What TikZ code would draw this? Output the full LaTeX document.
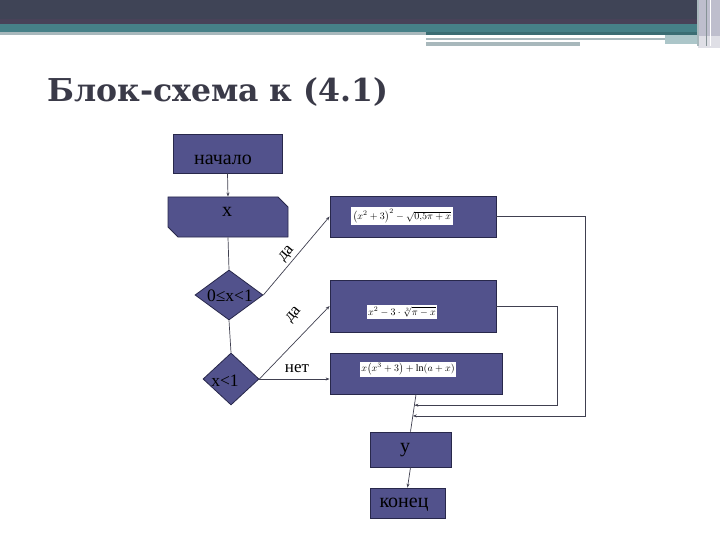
\documentclass[tikz,border=0pt]{standalone}
\usepackage{fontspec}
\setmainfont{Liberation Serif}
\newfontfamily\boxfont{Liberation Serif}
\newfontfamily\titlefont{DejaVu Serif}
\usetikzlibrary{shapes.geometric,shapes.misc,arrows.meta,calc}
\definecolor{hdrdark}{RGB}{63,68,86}
\definecolor{hdrpurp}{RGB}{72,66,88}
\definecolor{hdrteal}{RGB}{70,128,135}
\definecolor{hdrgray}{RGB}{168,184,188}
\definecolor{hdrlav}{RGB}{190,190,205}
\definecolor{boxfill}{RGB}{82,82,140}
\definecolor{boxline}{RGB}{40,40,75}
\definecolor{wire}{RGB}{64,64,80}
\definecolor{titlecol}{RGB}{58,58,72}
\tikzset{
  blk/.style={draw=boxline, fill=boxfill, line width=0.8pt, inner sep=0pt},
  dia/.style={blk, diamond, inner sep=0pt},
  txt/.style={inner sep=0pt, text=black, font=\boxfont\fontsize{20}{21}\selectfont},
  dtxt/.style={inner sep=0pt, text=black, font=\boxfont\fontsize{17.5}{18}\selectfont},
  frm/.style={fill=white, inner sep=1.5pt, font=\fontsize{10}{11}\selectfont, text=black},
  wirestyle/.style={draw=wire, line width=0.7pt, -{Stealth[length=4pt,width=3pt]}},
  plainwire/.style={draw=wire, line width=0.7pt},
  lbl/.style={font=\boxfont\fontsize{17}{18}\selectfont, text=black, inner sep=0pt}
}
\begin{document}
\begin{tikzpicture}[x=1pt,y=-1pt]
\useasboundingbox (0,0) rectangle (720,540);
% header
\fill[hdrdark] (0,0) rectangle (720,20);
\fill[hdrpurp] (0,19) rectangle (698,24);
\fill[hdrteal] (0,24) rectangle (698,32);
\fill[hdrgray] (0,32) rectangle (426,35);
\fill[hdrteal!85!black] (426,32) rectangle (698,35.5);
\fill[hdrgray] (426,38) rectangle (670,40.5);
\fill[hdrgray] (426,42.5) rectangle (580,46);
\fill[hdrteal!45!white] (665,35.5) rectangle (698,44);
\fill[hdrlav] (698,0) rectangle (720,36);
\fill[hdrlav!50!white] (698,36) rectangle (720,48);
\draw[hdrgray, line width=1.2pt] (698,0) -- (698,46);
\draw[hdrgray!80!black, line width=1pt] (706,0) -- (706,46);
\draw[white, line width=1pt] (710,0) -- (710,46);
% title
\node[anchor=base west, inner sep=0pt, text=titlecol, font=\titlefont\bfseries\fontsize{31.5}{33}\selectfont] (title) at (47,102) {Блок-схема к (4.1)};
% blocks
\node[blk, rectangle, minimum width=109pt, minimum height=39pt] (start) at (227.5,153.5) {};
\node[blk, chamfered rectangle, chamfered rectangle corners={north east,south west}, chamfered rectangle xsep=5pt, chamfered rectangle ysep=5pt, minimum width=120pt, minimum height=40pt] (xin) at (228,217) {\rule{100pt}{0pt}\rule{0pt}{30pt}};
\node[dia, minimum width=68pt, minimum height=50pt] (d1) at (229,295) {};
\node[dia, minimum width=56pt, minimum height=52pt] (d2) at (231,379) {};
\node[blk, rectangle, minimum width=166pt, minimum height=41pt] (b1) at (413,216.5) {};
\node[blk, rectangle, minimum width=166pt, minimum height=52pt] (b2) at (413,306) {};
\node[blk, rectangle, minimum width=172pt, minimum height=41pt] (b3) at (416,373.5) {};
\node[blk, rectangle, minimum width=81pt, minimum height=35pt] (ybox) at (410.5,449.5) {};
\node[blk, rectangle, minimum width=75pt, minimum height=30pt] (endb) at (407.5,503) {};
% texts
\node[txt] (startt) at (223,160) {начало};
\node[txt] (xint) at (227,212) {x};
\node[dtxt] (d1t) at (230,296) {0≤x<1};
\node[dtxt] (d2t) at (225,381) {x<1};
\node[txt] (ytxt) at (405,450) {y};
\node[txt] (endt) at (404,505) {конец};
\node[frm] (f1) at (402,216) {$\bigl(x^2+3\bigr)^2-\sqrt{0{,}5\pi+x}$};
\node[frm] (f2) at (402,312) {$x^2-3\cdot\sqrt[3]{\pi-x}$};
\node[frm] (f3) at (408,369) {$x\bigl(x^3+3\bigr)+\ln(a+x)$};
% connectors
\draw[wirestyle] (start.south) -- (xin.north);
\draw[plainwire] (xin.south) -- (d1.north);
\draw[plainwire] (d1.south) -- (d2.north);
\draw[wirestyle] (d1.east) -- (b1.west);
\draw[wirestyle] (d2.east) -- (b2.west);
\draw[wirestyle] (d2.east) -- (d2.east -| b3.west);
\draw[plainwire] (b3.south) -- (ybox.north);
\draw[wirestyle] (ybox.south) -- (endb.north);
\coordinate (j1) at ($(b3.south)!0.579!(ybox.north)$);
\coordinate (j2) at ($(b3.south)!0.29!(ybox.north)$);
\draw[wirestyle] (b1.east) -- (585,216.5) |- (j1);
\draw[wirestyle] (b2.east) -- (557,306) |- (j2);
% labels
\node[lbl, rotate=50] (da1) at (287,254) {да};
\node[lbl, rotate=50] (da2) at (294,315) {да};
\node[lbl] (net) at (297,369) {нет};
\end{tikzpicture}
\end{document}
